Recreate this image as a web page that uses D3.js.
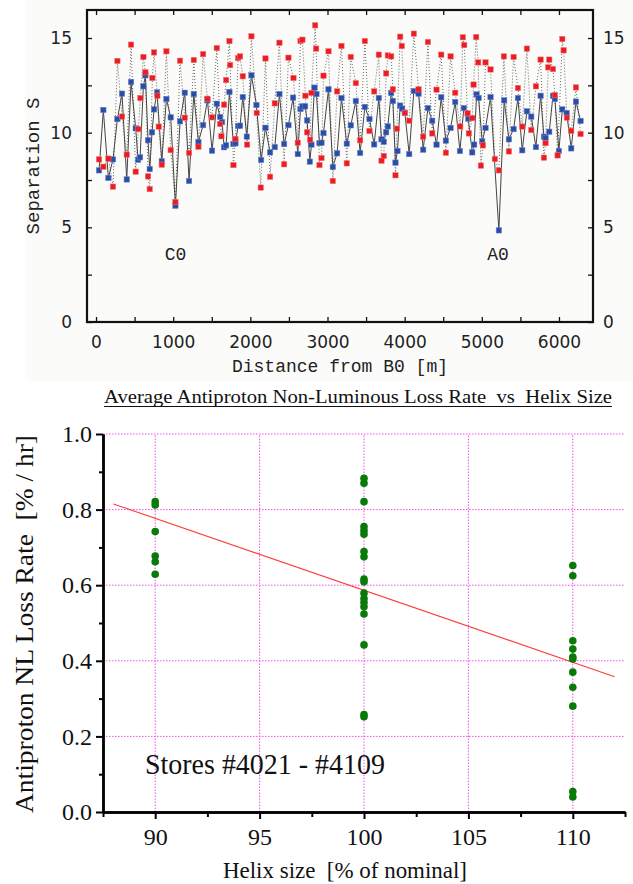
<!DOCTYPE html>
<html><head><meta charset="utf-8">
<script src="https://cdn.jsdelivr.net/npm/d3@7"></script>
<style>
html,body{margin:0;padding:0;background:#fff;}
svg{display:block;}
text{white-space:pre;}
</style></head>
<body>
<script>
// ---------- Top chart data: separation vs distance ----------
const blueDist = [39,95,160,220,277,337,398,454,514,545,571,614,640,674,696,726,752,791,852,912,968,1029,1089,1150,1206,1267,1327,1388,1444,1504,1565,1608,1634,1660,1686,1729,1781,1807,1841,1867,1902,1954,2014,2079,2140,2196,2256,2317,2377,2438,2494,2554,2615,2650,2675,2710,2736,2771,2792,2831,2857,2896,2922,2948,3013,3069,3125,3181,3250,3302,3367,3423,3484,3544,3605,3665,3700,3730,3760,3782,3825,3847,3881,3907,3942,3968,4002,4059,4119,4180,4240,4301,4357,4413,4474,4534,4595,4655,4716,4767,4824,4876,4901,4932,4958,5005,5048,5113,5221,5290,5351,5412,5468,5524,5584,5641,5701,5762,5805,5826,5874,5922,5947,5999,6043,6099,6159,6220,6280];
const blueSep = [8.01,11.20,7.61,8.59,10.72,12.06,7.53,12.68,10.23,8.57,8.70,12.45,13.03,9.60,8.08,10.02,11.23,12.13,8.49,11.78,10.81,6.14,10.60,12.11,7.45,12.04,9.51,10.40,11.71,9.05,11.53,10.83,10.56,9.23,9.33,12.15,9.40,9.44,10.35,10.37,11.88,9.79,13.03,11.46,8.56,10.26,8.96,9.24,12.04,9.40,10.40,11.85,8.87,11.25,11.39,11.39,10.65,8.47,9.37,12.38,12.04,9.45,9.47,9.98,12.29,8.19,8.91,11.83,9.42,10.39,11.67,8.93,11.36,10.72,9.38,11.83,9.65,9.52,10.02,10.33,12.10,11.67,8.42,9.03,11.43,11.27,11.06,8.87,12.20,12.06,9.10,11.30,10.63,9.37,11.87,9.58,10.25,11.62,9.03,11.30,10.74,8.96,9.37,12.02,11.83,9.54,10.25,11.88,4.84,11.71,9.65,10.19,11.83,9.07,11.13,10.85,9.24,11.95,9.79,9.72,10.05,11.95,11.78,9.03,11.23,11.04,9.17,11.64,10.62];
const redDist = [39,95,160,220,277,337,398,454,514,549,575,614,640,674,696,730,752,795,813,852,912,968,1029,1089,1150,1206,1267,1327,1388,1444,1504,1565,1608,1625,1660,1686,1729,1738,1781,1807,1841,1867,1902,1958,2014,2083,2135,2196,2256,2317,2377,2438,2494,2559,2615,2650,2675,2714,2736,2775,2792,2840,2853,2896,2922,2948,3013,3069,3125,3181,3250,3302,3367,3423,3484,3544,3605,3665,3700,3730,3760,3782,3825,3847,3881,3899,3942,3963,4002,4059,4119,4180,4240,4301,4357,4413,4474,4534,4595,4655,4720,4754,4772,4815,4832,4876,4893,4927,4953,4988,5014,5048,5113,5169,5221,5286,5351,5412,5468,5524,5584,5641,5701,5762,5805,5826,5861,5874,5922,5947,5982,6043,6060,6103,6159,6220,6280];
const redSep = [8.59,8.20,8.63,7.15,13.79,10.85,8.84,14.65,7.94,10.19,11.83,14.00,13.19,7.69,7.02,12.89,14.24,11.95,10.32,8.31,14.30,9.08,6.34,13.80,10.79,8.93,13.84,9.26,14.15,11.79,10.81,14.47,10.46,9.81,11.48,12.78,14.84,13.57,8.29,9.67,13.94,14.03,12.98,9.37,15.09,11.04,7.10,13.92,7.67,11.55,14.75,8.33,13.96,12.89,9.47,14.84,14.91,11.95,10.02,9.63,12.10,15.67,14.44,8.29,8.66,13.01,14.30,7.45,12.18,14.58,8.38,14.00,12.62,9.60,14.84,10.09,12.18,14.12,8.52,8.77,13.13,14.08,14.03,12.29,7.75,10.21,15.07,14.58,11.04,10.63,15.23,12.29,9.79,14.79,9.96,12.27,14.12,8.94,14.03,12.11,10.33,15.04,14.63,11.02,9.96,10.77,12.54,15.05,13.71,8.26,9.33,13.71,13.34,8.61,8.01,14.03,9.01,14.00,12.36,10.32,14.44,10.14,12.45,13.86,8.68,9.45,13.45,13.86,13.36,11.99,8.80,14.95,14.35,10.79,10.10,12.39,9.93];
const topXTicks = [0,1000,2000,3000,4000,5000,6000];
const topXMinor = [500,1500,2500,3500,4500,5500];
const topYTicks = [0,5,10,15];
const topYMinor = [2.5,7.5,12.5];
const siteLabels = ["C0","A0"];
const siteDist = [1030,5210];
const siteSep = [3.25,3.25];

// ---------- Bottom chart data: loss rate vs helix size ----------
const helixSizes = [90,100,110];
const loss90  = [0.821,0.812,0.742,0.677,0.662,0.629];
const loss100 = [0.883,0.870,0.821,0.755,0.745,0.735,0.689,0.675,0.616,0.609,0.579,0.565,0.554,0.543,0.524,0.442,0.258,0.252];
const loss110 = [0.652,0.625,0.453,0.431,0.410,0.405,0.370,0.330,0.280,0.054,0.040];
const fitX = [88,112];
const fitY = [0.815,0.358];
const botXTicks = [90,95,100,105,110];
const botXMinor = [87.5,92.5,97.5,102.5,107.5,112.5];
const botYTicks = [0,0.2,0.4,0.6,0.8,1.0];
const botYMinor = [0.1,0.3,0.5,0.7,0.9];

const W = 633, H = 884;
const svg = d3.select("body").append("svg").attr("width", W).attr("height", H);

// ================= TOP PANEL =================
svg.append("rect").attr("x",25).attr("y",0).attr("width",W-25).attr("height",381).attr("fill","#fbfbfa");

const tL = 87, tR = 593, tT = 10, tB = 322;
const xT = d3.scaleLinear().domain([-117, 6441]).range([tL, tR]);
const yT = d3.scaleLinear().domain([0, 16.48]).range([tB, tT]);
const topG = svg.append("g");

function styleAxis(g, font, size){
  g.select(".domain").remove();
  g.selectAll(".tick line").attr("stroke","#111").attr("stroke-width",1.3);
  g.selectAll("text").attr("font-family",font).attr("font-size",size).attr("fill","#222");
}
const tf = "DejaVu Sans";
styleAxis(topG.append("g").attr("transform",`translate(${tL},0)`)
  .call(d3.axisLeft(yT).tickValues(topYTicks).tickSize(-5).tickPadding(15)), tf, 17);
styleAxis(topG.append("g").attr("transform",`translate(${tL},0)`)
  .call(d3.axisLeft(yT).tickValues(topYMinor).tickSize(-5).tickFormat("")), tf, 17);
styleAxis(topG.append("g").attr("transform",`translate(${tR},0)`)
  .call(d3.axisRight(yT).tickValues(topYTicks).tickSize(-5).tickPadding(10)), tf, 17);
styleAxis(topG.append("g").attr("transform",`translate(${tR},0)`)
  .call(d3.axisRight(yT).tickValues(topYMinor).tickSize(-5).tickFormat("")), tf, 17);
styleAxis(topG.append("g").attr("transform",`translate(0,${tB})`)
  .call(d3.axisBottom(xT).tickValues(topXTicks).tickSize(-5).tickPadding(14).tickFormat(d3.format("d"))), tf, 17);
styleAxis(topG.append("g").attr("transform",`translate(0,${tB})`)
  .call(d3.axisBottom(xT).tickValues(topXMinor).tickSize(-5).tickFormat("")), tf, 17);
styleAxis(topG.append("g").attr("transform",`translate(0,${tT})`)
  .call(d3.axisTop(xT).tickValues(topXTicks.concat(topXMinor)).tickSize(-5).tickFormat("")), tf, 17);

const redPts = redDist.map((d,i)=>[d, redSep[i]]);
const bluePts = blueDist.map((d,i)=>[d, blueSep[i]]);
const lineT = d3.line().x(d=>xT(d[0])).y(d=>yT(d[1]));

topG.append("path").attr("d", lineT(redPts)).attr("fill","none")
  .attr("stroke","#666").attr("stroke-width",1).attr("stroke-dasharray","1,2");
topG.append("path").attr("d", lineT(bluePts)).attr("fill","none")
  .attr("stroke","#444").attr("stroke-width",1);

const ms = 5.4;
topG.append("g").selectAll("rect").data(bluePts).join("rect")
  .attr("x",d=>xT(d[0])-ms/2).attr("y",d=>yT(d[1])-ms/2)
  .attr("width",ms).attr("height",ms).attr("fill","#2a4ea8").attr("stroke","#6f86c4").attr("stroke-width",0.5);
topG.append("g").selectAll("rect").data(redPts).join("rect")
  .attr("x",d=>xT(d[0])-ms/2).attr("y",d=>yT(d[1])-ms/2)
  .attr("width",ms).attr("height",ms).attr("fill","#ec1c24").attr("stroke","#f27a7a").attr("stroke-width",0.5);

topG.append("rect").attr("x",tL).attr("y",tT).attr("width",tR-tL).attr("height",tB-tT)
  .attr("fill","none").attr("stroke","#111").attr("stroke-width",2.2);

const mono = "Liberation Mono";
topG.selectAll("text.site").data(siteLabels).join("text").attr("class","site")
  .attr("x",(d,i)=>xT(siteDist[i])).attr("y",(d,i)=>yT(siteSep[i]))
  .attr("text-anchor","middle").attr("font-family",mono).attr("font-size",18).attr("fill","#222").text(d=>d);
topG.append("text").attr("x",340).attr("y",372).attr("text-anchor","middle")
  .attr("font-family",mono).attr("font-size",18).attr("fill","#222").text("Distance from B0 [m]");
topG.append("text").attr("transform","translate(39,166) rotate(-90)").attr("text-anchor","middle")
  .attr("font-family",mono).attr("font-size",19).attr("fill","#222").text("Separation S");

// ================= BOTTOM PANEL =================
const bL = 103, bR = 625, bT = 434, bB = 812;
const xB = d3.scaleLinear().domain([87.5,112.5]).range([bL,bR]);
const yB = d3.scaleLinear().domain([0,1]).range([bB,bT]);
const bot = svg.append("g");
const serif = "Liberation Serif";

// title
bot.append("text").attr("x",358).attr("y",403).attr("text-anchor","middle")
  .attr("font-family",serif).attr("font-size",19).attr("fill","#111")
  .attr("textLength",508).attr("lengthAdjust","spacingAndGlyphs")
  .text("Average Antiproton Non-Luminous Loss Rate  vs  Helix Size");
bot.append("line").attr("x1",104).attr("x2",612).attr("y1",406.5).attr("y2",406.5)
  .attr("stroke","#111").attr("stroke-width",1);

// grid
const gridC = "#f050f0";
bot.append("g").selectAll("line").data(botYTicks.filter(v=>v>0)).join("line")
  .attr("x1",bL).attr("x2",bR).attr("y1",d=>yB(d)).attr("y2",d=>yB(d))
  .attr("stroke",gridC).attr("stroke-width",1).attr("stroke-dasharray","1.5,1.5");
bot.append("g").selectAll("line").data(botXTicks).join("line")
  .attr("x1",d=>xB(d)).attr("x2",d=>xB(d)).attr("y1",bB).attr("y2",bT)
  .attr("stroke",gridC).attr("stroke-width",1).attr("stroke-dasharray","1.5,1.5");

// axes
function styleBot(g){
  g.select(".domain").attr("stroke","#000").attr("stroke-width",2.4);
  g.selectAll(".tick line").attr("stroke","#000").attr("stroke-width",2);
  g.selectAll("text").attr("font-family",serif).attr("font-size",24).attr("fill","#111");
}
styleBot(bot.append("g").attr("transform",`translate(${bL},0)`)
  .call(d3.axisLeft(yB).tickValues(botYTicks).tickSize(7).tickSizeOuter(0).tickPadding(4).tickFormat(d3.format(".1f"))));
styleBot(bot.append("g").attr("transform",`translate(${bL},0)`)
  .call(d3.axisLeft(yB).tickValues(botYMinor).tickSize(4).tickSizeOuter(0).tickFormat("")));
styleBot(bot.append("g").attr("transform",`translate(0,${bB})`)
  .call(d3.axisBottom(xB).tickValues(botXTicks).tickSize(7).tickSizeOuter(0).tickPadding(9).tickFormat(d3.format("d"))));
styleBot(bot.append("g").attr("transform",`translate(0,${bB})`)
  .call(d3.axisBottom(xB).tickValues(botXMinor).tickSize(5).tickSizeOuter(0).tickFormat("")));

// fit line
bot.append("line").attr("x1",xB(fitX[0])).attr("y1",yB(fitY[0])).attr("x2",xB(fitX[1])).attr("y2",yB(fitY[1]))
  .attr("stroke","#ff3b3b").attr("stroke-width",1.1);

// points
const lossSets = [loss90, loss100, loss110];
const pts = [];
lossSets.forEach((arr,i)=>arr.forEach(v=>pts.push([helixSizes[i], v])));
bot.append("g").selectAll("circle").data(pts).join("circle")
  .attr("cx",d=>xB(d[0])).attr("cy",d=>yB(d[1])).attr("r",3.8).attr("fill","#087a08");

// labels
bot.append("text").attr("x",145).attr("y",774).attr("font-family",serif).attr("font-size",29).attr("fill","#111")
  .attr("textLength",240).attr("lengthAdjust","spacingAndGlyphs").text("Stores #4021 - #4109");
bot.append("text").attr("x",345).attr("y",878).attr("text-anchor","middle").attr("font-family",serif)
  .attr("font-size",24).attr("fill","#111").attr("textLength",244).attr("lengthAdjust","spacingAndGlyphs")
  .text("Helix size  [% of nominal]");
bot.append("text").attr("transform","translate(33,624) rotate(-90)").attr("text-anchor","middle")
  .attr("font-family",serif).attr("font-size",26).attr("fill","#111")
  .attr("textLength",378).attr("lengthAdjust","spacingAndGlyphs")
  .text("Antiproton NL Loss Rate  [% / hr]");
</script>
</body></html>
